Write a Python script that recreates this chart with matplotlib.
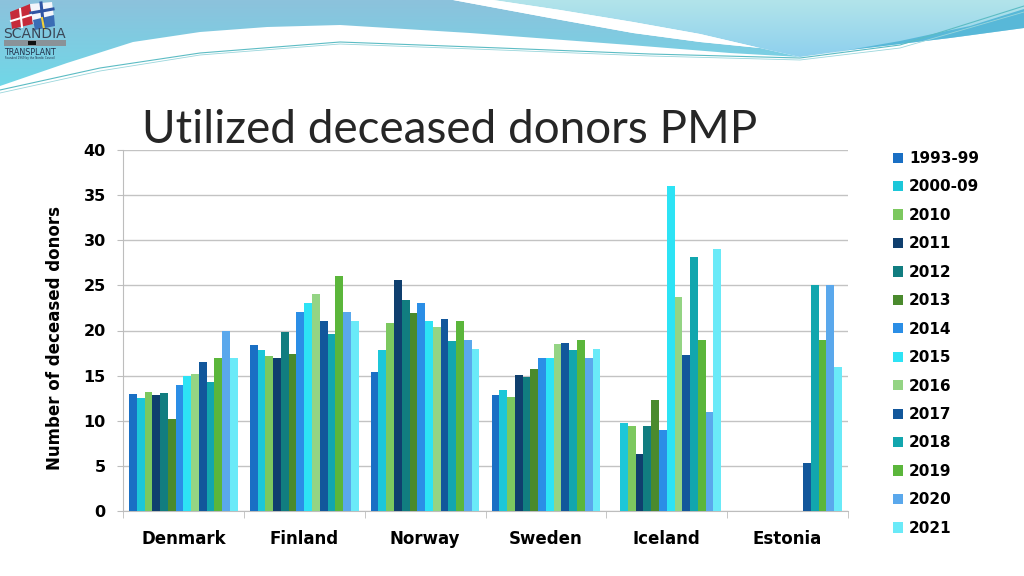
import numpy as np
import matplotlib
matplotlib.use('Agg')
import matplotlib.pyplot as plt
from matplotlib.patches import Polygon, Rectangle
from matplotlib.colors import to_rgb

# data (donors per million population)
countries = ['Denmark', 'Finland', 'Norway', 'Sweden', 'Iceland', 'Estonia']
periods = ['1993-99', '2000-09', '2010', '2011', '2012', '2013', '2014',
           '2015', '2016', '2017', '2018', '2019', '2020', '2021']
nan = np.nan
denmark = [13.0, 12.5, 13.2, 12.9, 13.1, 10.2, 14.0, 15.0, 15.2, 16.5, 14.3, 17.0, 20.0, 17.0]
finland = [18.4, 17.8, 17.2, 17.0, 19.8, 17.4, 22.0, 23.0, 24.0, 21.0, 19.6, 26.0, 22.0, 21.0]
norway = [15.4, 17.8, 20.8, 25.6, 23.4, 21.9, 23.0, 21.0, 20.4, 21.3, 18.8, 21.0, 19.0, 18.0]
sweden = [12.9, 13.4, 12.6, 15.1, 14.9, 15.7, 17.0, 17.0, 18.5, 18.6, 17.8, 19.0, 17.0, 18.0]
iceland = [nan, 9.8, 9.4, 6.3, 9.4, 12.3, 9.0, 36.0, 23.7, 17.3, 28.1, 19.0, 11.0, 29.0]
estonia = [nan, nan, nan, nan, nan, nan, nan, nan, nan, 5.3, 25.0, 19.0, 25.0, 16.0]

colors = ['#1a6fc4', '#1cc7d9', '#7cc85f', '#0f3f6e', '#117d80', '#4a8a2d', '#2b8ee6',
          '#2de3f5', '#94d484', '#12579b', '#12a6ae', '#5bb63b', '#5aa8ec', '#6aeaf8']

values = np.array([denmark, finland, norway, sweden, iceland, estonia])

fig = plt.figure(figsize=(10.24, 5.76), dpi=100)

### header decoration (pixel coordinates)
bg = fig.add_axes([0, 0, 1, 1], zorder=0)
bg.set_xlim(0, 1024)
bg.set_ylim(576, 0)
bg.axis('off')

def gradient(top, bottom, y0, y1):
    t = np.linspace(0, 1, 64)[:, None, None]
    img = np.array(to_rgb(top)) * (1 - t) + np.array(to_rgb(bottom)) * t
    img = np.repeat(img, 4, axis=1)
    return bg.imshow(img, extent=[0, 1024, y1, y0], aspect='auto', zorder=1,
                     interpolation='bilinear')

edge = [(1024, 28), (950, 38), (850, 50), (800, 57), (730, 53), (630, 45),
        (470, 33), (340, 25), (267, 27), (200, 32), (133, 42), (67, 63), (0, 86)]
swoosh_lo = [(760, 48), (700, 42), (633, 33), (550, 18), (453, 0)]
swoosh_hi = [(493, 0), (560, 10), (633, 22), (700, 34), (760, 48)]

left_poly = Polygon([(0, 0), (453, 0)] + swoosh_lo[::-1][1:] + edge[3:],
                    closed=True, fc='none', ec='none', transform=bg.transData)
bg.add_patch(left_poly)
im = gradient('#8cc2dc', '#6fd8e8', 0, 90)
im.set_clip_path(left_poly)

right_poly = Polygon([(493, 0), (1024, 0)] + edge[:4] + [(760, 48)] + swoosh_hi[::-1][1:],
                     closed=True, fc='none', ec='none', transform=bg.transData)
bg.add_patch(right_poly)
im2 = gradient('#b2e4ea', '#8ccfee', 0, 60)
im2.set_clip_path(right_poly)

bg.add_patch(Polygon(swoosh_lo + swoosh_hi, closed=True, fc='white', ec='none', zorder=2))
bg.add_patch(Polygon([(820, 55), (900, 41), (970, 26), (1024, 9)] + edge[:3],
                     closed=True, fc='#58b8d8', ec='none', zorder=2))
lx = [0, 100, 200, 340, 500, 650, 800, 900, 1024]
bg.plot(lx, [90, 68, 53, 42, 48, 54, 58, 45, 6], color='#5cbcc4', lw=0.8, zorder=3)
bg.plot(lx, [93, 71, 55, 44, 50, 56, 60, 48, 12], color='#9ad6dc', lw=0.6, zorder=3)

# logo
bg.add_patch(Polygon([(10, 12), (30, 4), (33, 24), (12, 29)], closed=True, fc='#c62b3a', ec='none', zorder=4))
bg.add_patch(Polygon([(30, 4), (52, 2), (54, 18), (33, 24)], closed=True, fc='#f4f6fb', ec='none', zorder=4))
bg.plot([41, 43], [3, 21], color='#2f55a4', lw=2.2, zorder=5)
bg.plot([31, 53], [13, 9], color='#2f55a4', lw=2.2, zorder=5)
bg.add_patch(Polygon([(33, 20), (54, 15), (55, 26), (35, 30)], closed=True, fc='#3a6db5', ec='none', zorder=4))
bg.plot([42, 44], [18, 29], color='#f2d23a', lw=1.5, zorder=5)
bg.plot([11, 31], [21, 15], color='white', lw=1.5, zorder=5)
bg.plot([20, 22], [9, 27], color='white', lw=1.5, zorder=5)
bg.text(3, 38, 'SCANDIA', fontsize=10, color='#3a4656', zorder=6)
bg.add_patch(Rectangle((4, 40), 62, 6, fc='#8a9298', ec='none', zorder=4))
bg.add_patch(Rectangle((28, 41), 8, 4, fc='#111111', ec='none', zorder=5))
bg.text(4, 55, 'TRANSPLANT', fontsize=5.8, color='#22304a', zorder=6)
bg.text(5, 59, 'Founded 1969 by the Nordic Council', fontsize=2, color='#22304a', zorder=6)

### chart
ax = fig.add_axes([123 / 1024, 1 - 511 / 576, 725 / 1024, 361 / 576], zorder=1)
ax.set_facecolor('none')

n = len(periods)
w = 0.9 / n
x = np.arange(len(countries))
for j in range(n):
    ax.bar(x + (j - (n - 1) / 2) * w, values[:, j], width=w, color=colors[j],
           label=periods[j], zorder=3)

ax.set_xlim(-0.5, len(countries) - 0.5)
ax.set_ylim(0, 40)
ax.set_yticks(range(0, 41, 5))
ax.grid(axis='y', color='#c3c3c3', lw=1, zorder=0)
for s in ['top', 'right']:
    ax.spines[s].set_visible(False)
for s in ['left', 'bottom']:
    ax.spines[s].set_color('#bdbdbd')

ax.set_xticks(x)
ax.set_xticklabels(countries, fontsize=12, fontweight='bold')
ax.set_xticks(np.arange(-0.5, len(countries)), minor=True)
ax.tick_params(axis='x', which='major', length=0, pad=14)
ax.tick_params(axis='x', which='minor', length=5, color='#bdbdbd')
ax.tick_params(axis='y', length=4.5, color='#bdbdbd', pad=8, labelsize=11.5)
for t in ax.get_yticklabels():
    t.set_fontweight('bold')

ax.set_ylabel('Number of deceased donors', fontsize=12, fontweight='bold')
ax.yaxis.set_label_coords(64 / 1024, 1 - 338 / 576, transform=fig.transFigure)

fig.text(142 / 1024, 1 - 143 / 576, 'Utilized deceased donors PMP', fontsize=33,
         family='Lato', color='#262626', va='baseline')

ax.legend(loc='upper left', bbox_to_anchor=(893 / 1024, 1 - 151 / 576),
          bbox_transform=fig.transFigure, frameon=False, borderpad=0, borderaxespad=0,
          handlelength=0.65, handleheight=0.65, handletextpad=0.4, labelspacing=0.88,
          prop={'size': 11, 'weight': 'bold'})

fig.savefig('out.png', dpi=100)
